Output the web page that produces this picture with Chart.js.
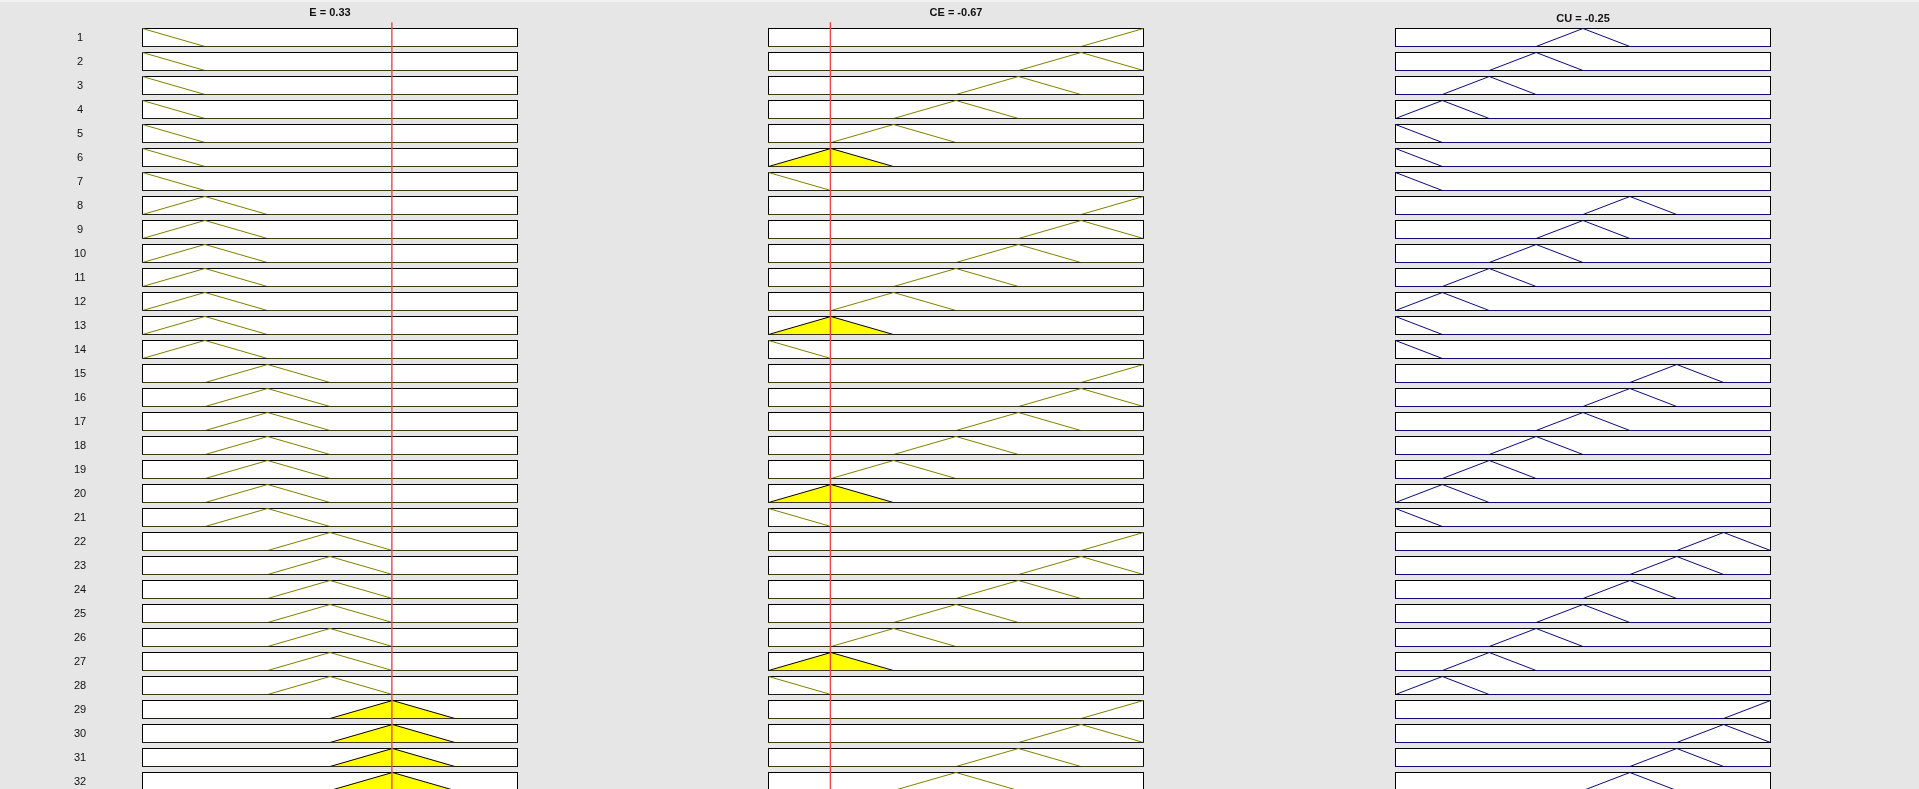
<!DOCTYPE html>
<html>
<head>
<meta charset="utf-8">
<script src="https://cdn.jsdelivr.net/npm/chart.js@4.4.1/dist/chart.umd.min.js"></script>
<style>
  html, body { margin: 0; padding: 0; background: #e6e6e6; overflow: hidden; }
  #wrap { position: relative; width: 1919px; height: 789px; }
  #topline { position: absolute; left: 0; top: 0; width: 1919px; height: 2px; background: #f1f1f1; }
  canvas { position: absolute; left: 0; top: 0; }
</style>
</head>
<body>
<div id="wrap">
  <canvas id="c" width="1919" height="789"></canvas>
  <div id="topline"></div>
</div>
<script>
// ---------------- data ----------------
const rowLabels = ['1','2','3','4','5','6','7','8','9','10','11','12','13','14','15','16',
                   '17','18','19','20','21','22','23','24','25','26','27','28','29','30','31','32'];
const titles = ['E = 0.33', 'CE = -0.67', 'CU = -0.25'];
const inputValues = [0.33, -0.67];            // E, CE (red index lines)

const ePeaks  = [-1, -0.667, -0.333, 0, 0.333, 0.667, 1];
const eHalf   = 0.333;
const cePeaks = [-1, -0.667, -0.333, 0, 0.333, 0.667, 1];
const ceHalf  = 0.333;
const cuPeaks = [-1, -0.75, -0.5, -0.25, 0, 0.25, 0.5, 0.75, 1];
const cuHalf  = 0.25;

// membership function used by each rule row (1-based MF index)
const ruleE  = [1,1,1,1,1,1,1, 2,2,2,2,2,2,2, 3,3,3,3,3,3,3, 4,4,4,4,4,4,4, 5,5,5,5];
const ruleCE = [7,6,5,4,3,2,1, 7,6,5,4,3,2,1, 7,6,5,4,3,2,1, 7,6,5,4,3,2,1, 7,6,5,4];
const ruleCU = [5,4,3,2,1,1,1, 6,5,4,3,2,1,1, 7,6,5,4,3,2,1, 8,7,6,5,4,3,2, 9,8,7,6];

// rows whose input MF is shown filled (yellow)
const eFilled  = [29,30,31,32];
const ceFilled = [6,13,20,27];

// ---------------- layout (pixels) ----------------
const W = 1919, H = 789;
const panels = [
  { id: 'xE',  left: 142.5,  right: 517.5,  titleY: 13 },
  { id: 'xCE', left: 768.5,  right: 1143.5, titleY: 13 },
  { id: 'xCU', left: 1395.5, right: 1770.5, titleY: 19 }
];
const rowPx = 18, pitchPx = 24, firstTopPx = 28.5;
const pitch = pitchPx / rowPx;
const yMax = 1 + firstTopPx / rowPx;
const yMin = yMax - H / rowPx;
const redTop = yMax - 22.3 / rowPx;
const labelX = 80;

function axisFor(p) {
  const R = 2 * W / (p.right - p.left);
  const min = -1 - p.left / W * R;
  return { type: 'linear', display: false, min: min, max: min + R, position: 'bottom' };
}
function base(r) { return -(r - 1) * pitch; }

function tri(c, w, b) {
  const xs = [-1, c - w, c, c + w, 1];
  const pts = [];
  xs.forEach(x => {
    const cx = Math.max(-1, Math.min(1, x));
    const mu = Math.max(0, 1 - Math.abs(cx - c) / w);
    const last = pts[pts.length - 1];
    if (!last || Math.abs(last.x - cx) > 1e-9 || Math.abs(last.y - (b + mu)) > 1e-9) {
      pts.push({ x: cx, y: b + mu });
    }
  });
  return pts;
}

const olive = 'rgb(128,128,0)';
const navy = 'rgb(10,10,120)';
const datasets = [];

rowLabels.forEach((lab, k) => {
  const r = k + 1, b = base(r);
  const eF = eFilled.includes(r);
  datasets.push({
    data: tri(ePeaks[ruleE[k] - 1], eHalf, b),
    xAxisID: 'xE', yAxisID: 'y',
    borderColor: eF ? '#000' : olive, borderWidth: 1, pointRadius: 0,
    backgroundColor: 'rgb(255,255,0)', fill: eF ? { value: b } : false
  });
  const cF = ceFilled.includes(r);
  datasets.push({
    data: tri(cePeaks[ruleCE[k] - 1], ceHalf, b),
    xAxisID: 'xCE', yAxisID: 'y',
    borderColor: cF ? '#000' : olive, borderWidth: 1, pointRadius: 0,
    backgroundColor: 'rgb(255,255,0)', fill: cF ? { value: b } : false
  });
  datasets.push({
    data: tri(cuPeaks[ruleCU[k] - 1], cuHalf, b),
    xAxisID: 'xCU', yAxisID: 'y',
    borderColor: navy, borderWidth: 1, pointRadius: 0, fill: false
  });
});

function boxPix(chart, p, k) {
  const xs = chart.scales[p.id], ys = chart.scales.y;
  const b = base(k + 1);
  return {
    x0: xs.getPixelForValue(-1), x1: xs.getPixelForValue(1),
    y0: ys.getPixelForValue(b + 1), y1: ys.getPixelForValue(b)
  };
}

const framePlugin = {
  id: 'frames',
  beforeDatasetsDraw(chart) {
    const ctx = chart.ctx, ys = chart.scales.y;
    ctx.save();
    ctx.lineWidth = 1;
    ctx.strokeStyle = '#000';
    ctx.fillStyle = '#fff';
    panels.forEach(p => {
      rowLabels.forEach((lab, k) => {
        const q = boxPix(chart, p, k);
        ctx.fillRect(q.x0, q.y0, q.x1 - q.x0, q.y1 - q.y0);
        ctx.strokeRect(q.x0, q.y0, q.x1 - q.x0, q.y1 - q.y0);
      });
    });
    // row labels
    ctx.fillStyle = '#111';
    ctx.font = '11px "Liberation Sans", Arial, Helvetica, sans-serif';
    ctx.textAlign = 'center';
    ctx.textBaseline = 'middle';
    rowLabels.forEach((lab, k) => {
      const b = base(k + 1);
      ctx.fillText(lab, labelX, ys.getPixelForValue(b + 0.5) + 0.5);
    });
    // titles
    ctx.font = 'bold 11px "Liberation Sans", Arial, Helvetica, sans-serif';
    panels.forEach((p, i) => {
      ctx.fillText(titles[i], chart.scales[p.id].getPixelForValue(0), p.titleY);
    });
    ctx.restore();
  },
  afterDatasetsDraw(chart) {
    const ctx = chart.ctx, ys = chart.scales.y;
    ctx.save();
    // bottom edges of input boxes stay dark
    ctx.lineWidth = 1;
    ctx.strokeStyle = 'rgba(40,40,30,0.8)';
    [panels[0], panels[1]].forEach(p => {
      rowLabels.forEach((lab, k) => {
        const q = boxPix(chart, p, k);
        ctx.beginPath();
        ctx.moveTo(q.x0, q.y1);
        ctx.lineTo(q.x1, q.y1);
        ctx.stroke();
      });
    });
    // red index lines at the input values
    ctx.strokeStyle = 'rgb(240,70,70)';
    ctx.lineWidth = 1.4;
    inputValues.forEach((v, i) => {
      const x = chart.scales[panels[i].id].getPixelForValue(v);
      ctx.beginPath();
      ctx.moveTo(x, ys.getPixelForValue(redTop));
      ctx.lineTo(x, ys.getPixelForValue(yMin));
      ctx.stroke();
    });
    ctx.restore();
  }
};

const scales = { y: { type: 'linear', display: false, min: yMin, max: yMax } };
panels.forEach(p => { scales[p.id] = axisFor(p); });

new Chart(document.getElementById('c'), {
  type: 'line',
  data: { datasets: datasets },
  options: {
    responsive: false,
    animation: false,
    layout: { padding: 0 },
    scales: scales,
    plugins: { legend: { display: false }, tooltip: { enabled: false }, title: { display: false } },
    elements: { line: { tension: 0 } }
  },
  plugins: [framePlugin]
});
</script>
</body>
</html>
